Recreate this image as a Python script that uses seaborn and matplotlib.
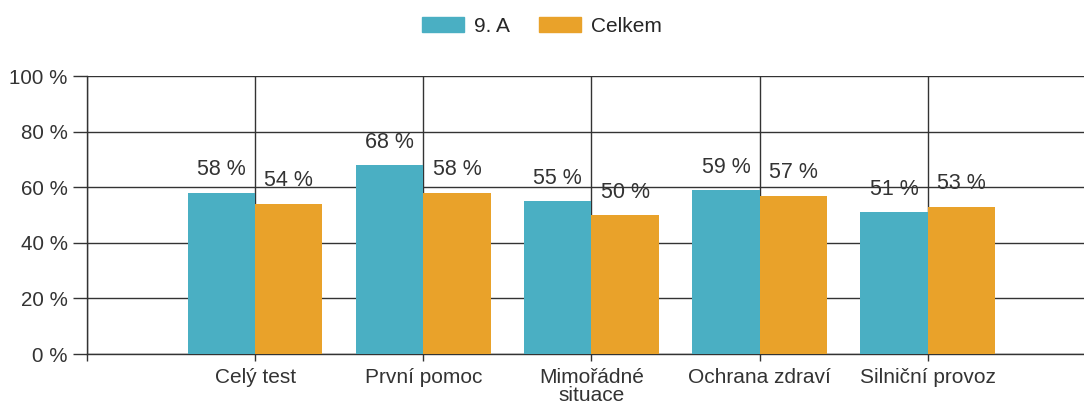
import matplotlib
matplotlib.use("Agg")
import matplotlib.pyplot as plt
import seaborn as sns
import pandas as pd

categories = ["Celý test", "První pomoc", "Mimořádné\nsituace", "Ochrana zdraví", "Silniční provoz"]
series_names = ["9. A", "Celkem"]
values_9a = [58, 68, 55, 59, 51]
values_total = [54, 58, 50, 57, 53]
y_ticks = [0, 20, 40, 60, 80, 100]

sns.set_theme(style="white")
plt.rcParams["font.family"] = ["Liberation Sans", "DejaVu Sans"]

df = pd.DataFrame({
    "cat": categories * 2,
    "series": [series_names[0]] * 5 + [series_names[1]] * 5,
    "val": values_9a + values_total,
})

fig = plt.figure(figsize=(10.84, 4.07), dpi=100)
ax = fig.add_axes([0.0803, 0.130, 0.9197, 0.683])
order = [""] + categories
palette = {"9. A": "#4AAFC3", "Celkem": "#E9A22A"}
sns.barplot(data=df, x="cat", y="val", hue="series", order=order,
            hue_order=series_names, palette=palette, width=0.8,
            saturation=1, ax=ax, legend=False, linewidth=0, zorder=3)

ax.set_axisbelow(True)
ax.set_ylim(0, 100)
ax.set_xlim(0, 5.93)
ax.set_yticks(y_ticks)
ax.set_yticklabels([f"{t} %" for t in y_ticks], fontsize=14.8, color="#333333")
ax.set_xticks(range(len(order)))
ax.set_xticklabels(order, fontsize=15, color="#333333", linespacing=0.95)
ax.set_xlabel("")
ax.set_ylabel("")
ax.grid(True, axis="both", color="#333333", linewidth=1.0, zorder=0)
for s in ["top", "right"]:
    ax.spines[s].set_visible(False)
for s in ["left", "bottom"]:
    ax.spines[s].set_color("#333333")
    ax.spines[s].set_linewidth(1.0)
ax.tick_params(axis="y", length=10, width=1, color="#333333", left=True, pad=4)
ax.tick_params(axis="x", length=5, width=1, color="#333333", bottom=True, pad=5)

for cont in ax.containers:
    ax.bar_label(cont, labels=[f"{v:.0f} %" for v in cont.datavalues],
                 padding=9, fontsize=15.5, color="#333333")

handles = [plt.Rectangle((0, 0), 1, 1, color=palette[n]) for n in series_names]
fig.legend(handles, series_names, loc="center", bbox_to_anchor=(0.5, 0.936),
           ncol=2, frameon=False, fontsize=15, handlelength=2.0,
           handleheight=0.75, columnspacing=1.4, handletextpad=0.5)

fig.savefig("out.png", dpi=100)
